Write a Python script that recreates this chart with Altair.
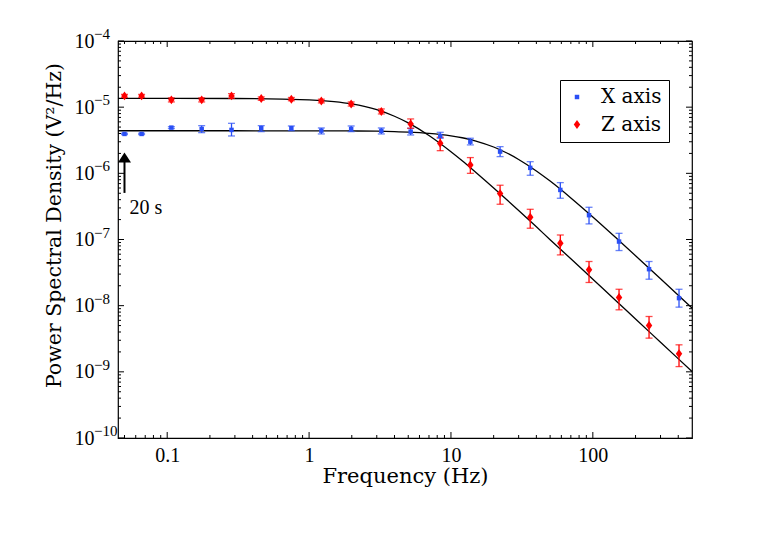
import altair as alt
import pandas as pd

# ---------------- data ----------------
freq = [0.05, 0.066, 0.107, 0.175, 0.284, 0.46, 0.75, 1.22, 1.98, 3.23,
        5.2, 8.4, 13.7, 22.2, 36.2, 59, 94, 153, 249, 405]

x_psd = [3.94e-6, 3.94e-6, 4.91e-6, 4.69e-6, 4.53e-6, 4.80e-6, 4.80e-6, 4.42e-6, 4.69e-6, 4.40e-6,
         4.27e-6, 3.67e-6, 3.01e-6, 2.13e-6, 1.21e-6, 5.61e-7, 2.33e-7, 9.31e-8, 3.56e-8, 1.30e-8]
x_lo = [3.85e-6, 3.85e-6, 4.75e-6, 4.12e-6, 3.67e-6, 4.27e-6, 4.42e-6, 3.94e-6, 4.27e-6, 3.94e-6,
        3.80e-6, 3.39e-6, 2.69e-6, 1.79e-6, 9.35e-7, 4.20e-7, 1.72e-7, 6.81e-8, 2.51e-8, 9.5e-9]
x_hi = [4.03e-6, 4.03e-6, 5.07e-6, 5.26e-6, 5.70e-6, 5.26e-6, 5.20e-6, 4.85e-6, 5.20e-6, 4.85e-6,
        4.80e-6, 4.17e-6, 3.39e-6, 2.53e-6, 1.50e-6, 7.24e-7, 3.07e-7, 1.24e-7, 4.65e-8, 1.77e-8]

z_psd = [1.48e-5, 1.48e-5, 1.29e-5, 1.29e-5, 1.48e-5, 1.35e-5, 1.32e-5, 1.24e-5, 1.12e-5, 8.6e-6,
         5.57e-6, 2.85e-6, 1.34e-6, 4.94e-7, 2.17e-7, 8.79e-8, 3.48e-8, 1.33e-8, 5.01e-9, 1.87e-9]
z_lo = [1.40e-5, 1.40e-5, 1.20e-5, 1.20e-5, 1.36e-5, 1.27e-5, 1.25e-5, 1.16e-5, 1.04e-5, 7.9e-6,
        4.80e-6, 2.20e-6, 1.00e-6, 3.41e-7, 1.48e-7, 5.85e-8, 2.24e-8, 8.65e-9, 3.23e-9, 1.20e-9]
z_hi = [1.56e-5, 1.56e-5, 1.38e-5, 1.38e-5, 1.60e-5, 1.43e-5, 1.40e-5, 1.32e-5, 1.20e-5, 9.4e-6,
        6.64e-6, 3.51e-6, 1.73e-6, 6.61e-7, 2.86e-7, 1.17e-7, 4.65e-8, 1.77e-8, 6.86e-9, 2.56e-9]

# fitted curves
curve_f = [0.045, 0.3, 1, 1.5, 2, 3, 4, 5, 7, 10, 12, 15, 20, 25, 30, 40, 50, 70, 100, 150, 200, 300, 500]
x_fit = [4.40e-6, 4.40e-6, 4.39e-6, 4.39e-6, 4.37e-6, 4.33e-6, 4.27e-6, 4.20e-6, 4.02e-6, 3.69e-6,
         3.45e-6, 3.08e-6, 2.50e-6, 2.01e-6, 1.62e-6, 1.086e-6, 7.63e-7, 4.25e-7, 2.19e-7, 1.00e-7,
         5.69e-8, 2.55e-8, 9.2e-9]
z_fit = [1.36e-5, 1.353e-5, 1.290e-5, 1.213e-5, 1.118e-5, 9.15e-6, 7.29e-6, 5.78e-6, 3.73e-6, 2.12e-6,
         1.548e-6, 1.03e-6, 6.01e-7, 3.91e-7, 2.74e-7, 1.554e-7, 9.92e-8, 5.11e-8, 2.51e-8, 1.12e-8,
         6.29e-9, 2.80e-9, 1.01e-9]

series = ["X axis", "Z axis"]

# annotation
arrow_f = [0.05]
arrow_bottom = [5.06e-7]
arrow_head = [1.74e-6]
note_p = [3.0e-7]
note_text = ["20 s"]

# axis tick values and labels
x_major = [0.1, 1, 10, 100]
x_minor = [0.05, 0.06, 0.07, 0.08, 0.09,
           0.2, 0.3, 0.4, 0.5, 0.6, 0.7, 0.8, 0.9,
           2, 3, 4, 5, 6, 7, 8, 9,
           20, 30, 40, 50, 60, 70, 80, 90,
           200, 300, 400]
y_major = [1e-10, 1e-9, 1e-8, 1e-7, 1e-6, 1e-5, 1e-4]
y_exponent = ["\u221210", "\u22129", "\u22128", "\u22127", "\u22126", "\u22125", "\u22124"]
y_minor = [k * m for m in [1e-10, 1e-9, 1e-8, 1e-7, 1e-6, 1e-5] for k in range(2, 10)]

# ---------------- tables ----------------
pts = pd.DataFrame({
    "f": freq * 2,
    "p": x_psd + z_psd,
    "lo": x_lo + z_lo,
    "hi": x_hi + z_hi,
    "s": [series[0]] * len(freq) + [series[1]] * len(freq),
})
fit = pd.DataFrame({
    "f": curve_f * 2,
    "p": x_fit + z_fit,
    "s": [series[0]] * len(curve_f) + [series[1]] * len(curve_f),
})
arrow = pd.DataFrame({"f": arrow_f, "p": arrow_bottom, "p2": arrow_head})
head = pd.DataFrame({"f": arrow_f, "p": arrow_head})
note = pd.DataFrame({"f": arrow_f, "p": note_p, "t": note_text})
df_xmaj = pd.DataFrame({"f": x_major})
df_xmin = pd.DataFrame({"f": x_minor})
df_ymaj = pd.DataFrame({"p": y_major, "e": y_exponent})
df_ymin = pd.DataFrame({"p": y_minor})

# ---------------- style ----------------
W, H = 574, 397
FONT = "Liberation Serif"
TFONT = "DejaVu Serif"
BLUE = "#2a4ff5"
RED = "#ff0000"
COLORS = [BLUE, RED]
DIAMOND = "M0,-1L0.72,0L0,1L-0.72,0Z"
HEAD = "M0,-0.5L0.65,0.5L-0.65,0.5Z"

xscale = alt.Scale(type="log", domain=[0.045, 500], nice=False)
yscale = alt.Scale(type="log", domain=[1e-10, 1e-4], nice=False)

xaxis = alt.Axis(values=x_major, format="~g", ticks=False, domain=False, grid=False,
                 labelFont=FONT, labelFontSize=20, labelPadding=7, labelColor="black",
                 titleFont=TFONT, titleFontSize=21, titleFontWeight="normal", titlePadding=0,
                 titleColor="black")
yaxis = alt.Axis(values=y_major, labelExpr="'10'", ticks=False, domain=False, grid=False,
                 labelFont=FONT, labelFontSize=20, labelPadding=24, labelColor="black",
                 titleFont=TFONT, titleFontSize=20.5, titleFontWeight="normal", titlePadding=10,
                 titleColor="black", titleY=184)


def X(field):
    return alt.X(f"{field}:Q", scale=xscale, axis=xaxis, title="Frequency (Hz)")


def Y(field):
    return alt.Y(f"{field}:Q", scale=yscale, axis=yaxis, title="Power Spectral Density (V²/Hz)")


leg = alt.Legend(title=None, orient="none", legendX=442, legendY=39,
                 strokeColor="black", fillColor="white", padding=7,
                 labelFont=TFONT, labelFontSize=20, labelColor="black",
                 labelOffset=14, rowPadding=7.5, symbolStrokeWidth=0)
color = alt.Color("s:N", scale=alt.Scale(domain=series, range=COLORS), legend=leg)
shape = alt.Shape("s:N", scale=alt.Scale(domain=series, range=["square", DIAMOND]), legend=leg)
size = alt.Size("s:N", scale=alt.Scale(domain=series, range=[20, 80]), legend=leg)

curves = alt.Chart(fit).mark_line(color="black", strokeWidth=1.3, interpolate="monotone").encode(
    x=X("f"), y=Y("p"), detail="s:N")

err_layers = []
for name, col in zip(series, COLORS):
    sub = alt.Chart(pts).transform_filter(alt.datum.s == name)
    err_layers.append(sub.mark_rule(strokeWidth=1.3, color=col).encode(
        x=X("f"), y=Y("lo"), y2="hi:Q"))
    err_layers.append(sub.mark_tick(orient="horizontal", size=7, thickness=1.3, color=col).encode(
        x=X("f"), y=Y("lo")))
    err_layers.append(sub.mark_tick(orient="horizontal", size=7, thickness=1.3, color=col).encode(
        x=X("f"), y=Y("hi")))

points = alt.Chart(pts).mark_point(filled=True, opacity=1, strokeWidth=0).encode(
    x=X("f"), y=Y("p"), color=color, shape=shape, size=size)

arrow_shaft = alt.Chart(arrow).mark_rule(color="black", strokeWidth=2).encode(
    x=X("f"), y=Y("p"), y2="p2:Q")
arrow_tip = alt.Chart(head).mark_point(shape=HEAD, filled=True, color="black", size=400,
                                       opacity=1, strokeWidth=0).encode(x=X("f"), y=Y("p"))
note_txt = alt.Chart(note).mark_text(align="left", baseline="middle", dx=5, font=FONT,
                                     fontSize=20, color="black").encode(
    x=X("f"), y=Y("p"), text="t:N")

# superscript exponents of the y tick labels
exps = alt.Chart(df_ymaj).mark_text(align="left", baseline="middle", dy=-7, font=FONT,
                                    fontSize=15, color="black").encode(
    y=Y("p"), x=alt.value(-24), text="e:N")


# inward ticks on all four sides
def tick_rules(df, side, length):
    base = alt.Chart(df).mark_rule(color="black", strokeWidth=1)
    if side == "left":
        return base.encode(y=Y("p"), x=alt.value(0), x2=alt.value(length))
    if side == "right":
        return base.encode(y=Y("p"), x=alt.value(W), x2=alt.value(W - length))
    if side == "bottom":
        return base.encode(x=X("f"), y=alt.value(H), y2=alt.value(H - length))
    return base.encode(x=X("f"), y=alt.value(0), y2=alt.value(length))


ticks = [
    tick_rules(df_ymaj, "left", 6), tick_rules(df_ymin, "left", 3),
    tick_rules(df_ymaj, "right", 6), tick_rules(df_ymin, "right", 3),
    tick_rules(df_xmaj, "bottom", 6), tick_rules(df_xmin, "bottom", 3),
    tick_rules(df_xmaj, "top", 6), tick_rules(df_xmin, "top", 3),
]

chart = alt.layer(
    *ticks, curves, *err_layers, points, arrow_shaft, arrow_tip, note_txt, exps
).properties(
    width=W, height=H,
    padding={"left": 36, "top": 19, "right": 5, "bottom": 5},
    background="white",
).configure_view(stroke="black", strokeWidth=1.2)

chart.save("out.html", embed_options={"renderer": "svg", "actions": False})
